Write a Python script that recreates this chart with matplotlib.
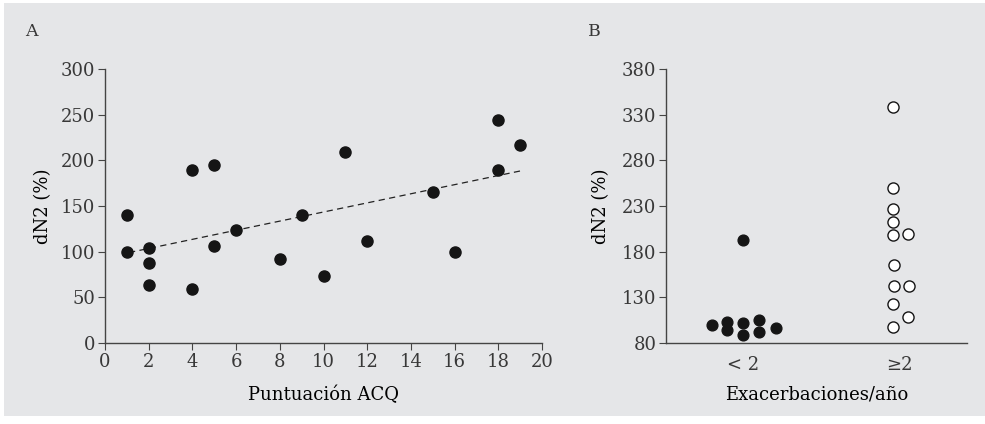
import numpy as np
import matplotlib
matplotlib.use("Agg")
import matplotlib.pyplot as plt

# panel A: dN2 vs ACQ score
acq_score = [1, 1, 2, 2, 2, 4, 4, 5, 5, 6, 8, 9, 10, 11, 12, 15, 16, 18, 18, 19]
dn2_a = [140, 100, 103.5, 88, 63.5, 189, 59, 195, 106.5, 123.5,
         91.5, 140, 73.5, 209.5, 111.5, 165, 100, 244, 189, 217]

# panel B: dN2 by exacerbations/year
groups = ["< 2", "\u22652"]
dn2_low = [99.7, 103.3, 94.6, 101.5, 89.1, 192.6, 105.2, 92, 96.4]
jitter_low = [-0.2, -0.1, -0.1, 0, 0, 0, 0.1, 0.1, 0.21]
dn2_high = [338, 250, 226.6, 212.3, 197.8, 199.2, 165.7, 142.7, 142.7, 123, 108.1, 97.1]
jitter_high = [-0.04, -0.04, -0.04, -0.04, -0.04, 0.06, -0.03, -0.03, 0.065, -0.04, 0.06, -0.04]

bg = "#e5e6e8"
ink = "#383838"
plt.rcParams["font.family"] = ["DejaVu Serif"]
plt.rcParams["font.size"] = 12.5
plt.rcParams["text.color"] = ink

fig = plt.figure(figsize=(9.85, 4.24), dpi=100)
fig.patch.set_facecolor("white")
fig.patches.append(plt.Rectangle((4 / 985, 1 - 416 / 424), 981 / 985, 413 / 424,
                                 transform=fig.transFigure, facecolor=bg,
                                 edgecolor="none", zorder=-10))

axA = fig.add_axes([105 / 985, 81 / 424, 437 / 985, 274 / 424])
axB = fig.add_axes([666 / 985, 81 / 424, 301 / 985, 274 / 424])

for ax in (axA, axB):
    ax.set_facecolor("none")
    for s in ("top", "right"):
        ax.spines[s].set_visible(False)
    for s in ("left", "bottom"):
        ax.spines[s].set_color("#444444")
        ax.spines[s].set_linewidth(1.0)
    ax.tick_params(direction="out", length=5, width=0.8, color="#444444",
                   labelcolor=ink, labelsize=13, pad=2)

# A
axA.scatter(acq_score, dn2_a, s=64, color="#151515", zorder=3, clip_on=False)
slope, icpt = np.polyfit(acq_score, dn2_a, 1)
xs = np.array([1.1, 19])
axA.plot(xs, slope * xs + icpt, ls=(0, (5, 3.5)), color="#222222", lw=0.9)
axA.set_xlim(0, 20)
axA.set_ylim(0, 300)
axA.set_xticks(range(0, 21, 2))
axA.set_yticks(range(0, 301, 50))
axA.set_xlabel("Puntuación ACQ", fontsize=13)
axA.set_ylabel("dN2 (%)", fontsize=13)
axA.xaxis.set_label_coords(0.5, -0.155)
axA.yaxis.set_label_coords(-0.121, 0.5)

# B
axB.scatter(1 + np.array(jitter_low), dn2_low, s=60, color="#151515", zorder=3, clip_on=False)
axB.scatter(2 + np.array(jitter_high), dn2_high, s=64, facecolor="white",
            edgecolor="#151515", linewidth=1.0, zorder=3, clip_on=False)
axB.set_xlim(0.506, 2.436)
axB.set_ylim(80, 380)
axB.set_xticks([1, 2])
axB.set_xticklabels(groups)
axB.tick_params(axis="x", length=0, pad=9)
axB.set_yticks(range(80, 381, 50))
axB.set_xlabel("Exacerbaciones/año", fontsize=13)
axB.set_ylabel("dN2 (%)", fontsize=13)
axB.xaxis.set_label_coords(0.5, -0.155)
axB.yaxis.set_label_coords(-0.186, 0.5)

fig.text(25 / 985, 1 - 32 / 424, "A", va="center", ha="left", fontsize=12.5)
fig.text(588 / 985, 1 - 32 / 424, "B", va="center", ha="left", fontsize=12.5)

fig.savefig("out.png", dpi=100, facecolor=fig.get_facecolor())
